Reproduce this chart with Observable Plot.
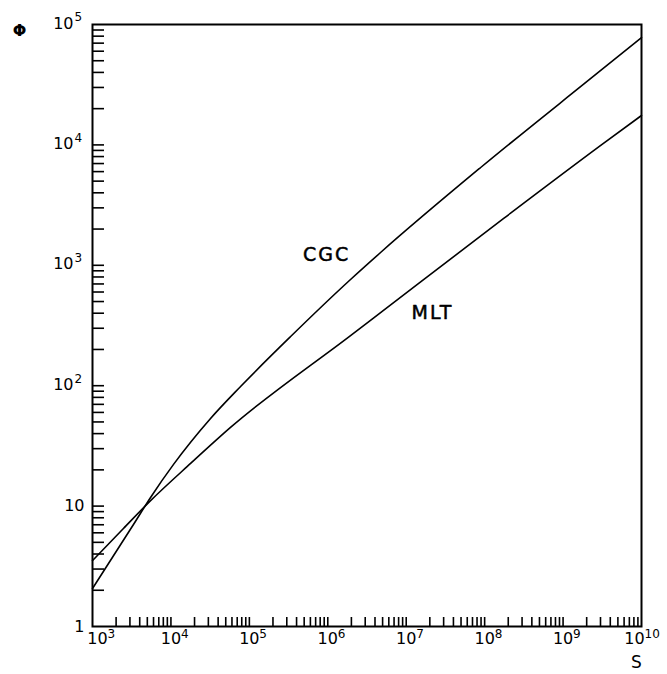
<!DOCTYPE html>
<html>
<head>
<meta charset="utf-8">
<script src="https://cdn.jsdelivr.net/npm/d3@7"></script>
<script src="https://cdn.jsdelivr.net/npm/@observablehq/plot@0.6"></script>
<style>
  html, body { margin: 0; padding: 0; background: #fff; }
  #chart svg { display: block; }
</style>
</head>
<body>
<div id="chart"></div>
<script>
// CGC curve: S values and Φ values
const cgcS   = [1e3, 3.33e3, 5.5e3, 1.08e4, 3.2e4, 7.73e4, 3.36e5, 1.95e6, 4.71e6, 8.9e7, 3.02e9, 1e10];
const cgcPhi = [2.07, 7.03, 11.8, 22.2, 53.4, 98.5, 256, 762, 1277, 6490, 41500, 78000];
// MLT curve
const mltS   = [1e3, 2.48e3, 5.5e3, 1.78e4, 5.75e4, 1.95e6, 4.71e6, 1.75e8, 3.02e9, 1e10];
const mltPhi = [3.53, 6.52, 11.1, 22.6, 45.0, 261, 405, 2450, 9890, 17540];

// Tick labels
const xMajor = [1e3, 1e4, 1e5, 1e6, 1e7, 1e8, 1e9, 1e10];
const xExp   = ["3", "4", "5", "6", "7", "8", "9", "10"];
const yPlain = [1, 10];
const yPlainLabels = ["1", "10"];
const yPow   = [1e2, 1e3, 1e4, 1e5];
const yPowExp = ["2", "3", "4", "5"];

// Minor tick multipliers and decades
const mults = [1, 2, 3, 4, 5, 6, 7, 8, 9];
const xDecades = [3, 4, 5, 6, 7, 8, 9];
const yDecades = [0, 1, 2, 3, 4];

// Curve labels
const curveNames = ["CGC", "MLT"];
const curveLabelS = [9.4e5, 2.1e7];
const curveLabelPhi = [1230, 402];

const xTicks = xDecades.flatMap(n => mults.map(m => m * 10 ** n)).filter(v => v > 1e3);
const yTicks = yDecades.flatMap(n => mults.map(m => m * 10 ** n)).filter(v => v > 1);

const cgc = cgcS.map((s, i) => ({S: s, Phi: cgcPhi[i]}));
const mlt = mltS.map((s, i) => ({S: s, Phi: mltPhi[i]}));
const labels = curveNames.map((t, i) => ({t, S: curveLabelS[i], Phi: curveLabelPhi[i]}));

const font = "DejaVu Sans";
const xFirst = xMajor.slice(0, 1), xMid = xMajor.slice(1, -1), xLast = xMajor.slice(-1);
const expOf = d => xExp[xMajor.indexOf(d)];

const chart = Plot.plot({
  width: 667,
  height: 674,
  marginLeft: 92,
  marginRight: 26,
  marginTop: 24,
  marginBottom: 48,
  x: {type: "log", domain: [1e3, 1e10], axis: null},
  y: {type: "log", domain: [1, 1e5], axis: null},
  style: {fontFamily: font, background: "#fff", color: "#000"},
  marks: [
    Plot.axisX(xTicks, {anchor: "bottom", tickSize: -9, strokeWidth: 1.6, fill: "none"}),
    Plot.axisY(yTicks, {anchor: "left", tickSize: -12, strokeWidth: 1.6, fill: "none"}),
    Plot.frame({strokeWidth: 2, stroke: "#000"}),
    Plot.line(cgc, {x: "S", y: "Phi", curve: "monotone-x", stroke: "#000", strokeWidth: 1.6}),
    Plot.line(mlt, {x: "S", y: "Phi", curve: "monotone-x", stroke: "#000", strokeWidth: 1.6}),
    // y tick labels
    Plot.text(yPlain, {y: d => d, frameAnchor: "left", text: (d, i) => yPlainLabels[i], textAnchor: "end", dx: -8, dy: 0, fontSize: 16, fill: "#000"}),
    Plot.text(yPow, {y: d => d, frameAnchor: "left", text: () => "10", textAnchor: "end", dx: -19, dy: -1, fontSize: 16, fill: "#000"}),
    Plot.text(yPow, {y: d => d, frameAnchor: "left", text: (d, i) => yPowExp[i], textAnchor: "start", dx: -18, dy: -7, fontSize: 12, fill: "#000"}),
    // x tick labels
    Plot.text(xFirst, {x: d => d, frameAnchor: "bottom", text: () => "10", textAnchor: "middle", dx: 5, dy: 17, fontSize: 16, fill: "#000"}),
    Plot.text(xFirst, {x: d => d, frameAnchor: "bottom", text: expOf, textAnchor: "start", dx: 15, dy: 11, fontSize: 12, fill: "#000"}),
    Plot.text(xMid, {x: d => d, frameAnchor: "bottom", text: () => "10", textAnchor: "middle", dx: 0, dy: 17, fontSize: 16, fill: "#000"}),
    Plot.text(xMid, {x: d => d, frameAnchor: "bottom", text: expOf, textAnchor: "start", dx: 10, dy: 11, fontSize: 12, fill: "#000"}),
    Plot.text(xLast, {x: d => d, frameAnchor: "bottom", text: () => "10", textAnchor: "middle", dx: -7, dy: 17, fontSize: 16, fill: "#000"}),
    Plot.text(xLast, {x: d => d, frameAnchor: "bottom", text: expOf, textAnchor: "start", dx: 3, dy: 11, fontSize: 12, fill: "#000"}),
    // axis names
    Plot.text(["Φ"], {frameAnchor: "top-left", text: d => d, dx: -73, dy: 0, fontSize: 16, fontWeight: "bold", textAnchor: "middle", fill: "#000"}),
    Plot.text(["S"], {frameAnchor: "bottom-right", text: d => d, dx: -5, dy: 41, fontSize: 17, textAnchor: "middle", fill: "#000"}),
    // curve labels
    Plot.text(labels, {x: "S", y: "Phi", text: "t", fontSize: 19, textAnchor: "middle", dx: 1, fill: "#000", stroke: "#000", strokeWidth: 0.5})
  ]
});

d3.select(chart).selectAll("text")
  .filter(function () { return curveNames.includes(this.textContent); })
  .style("letter-spacing", "2px");

document.getElementById("chart").appendChild(chart);
</script>
</body>
</html>
